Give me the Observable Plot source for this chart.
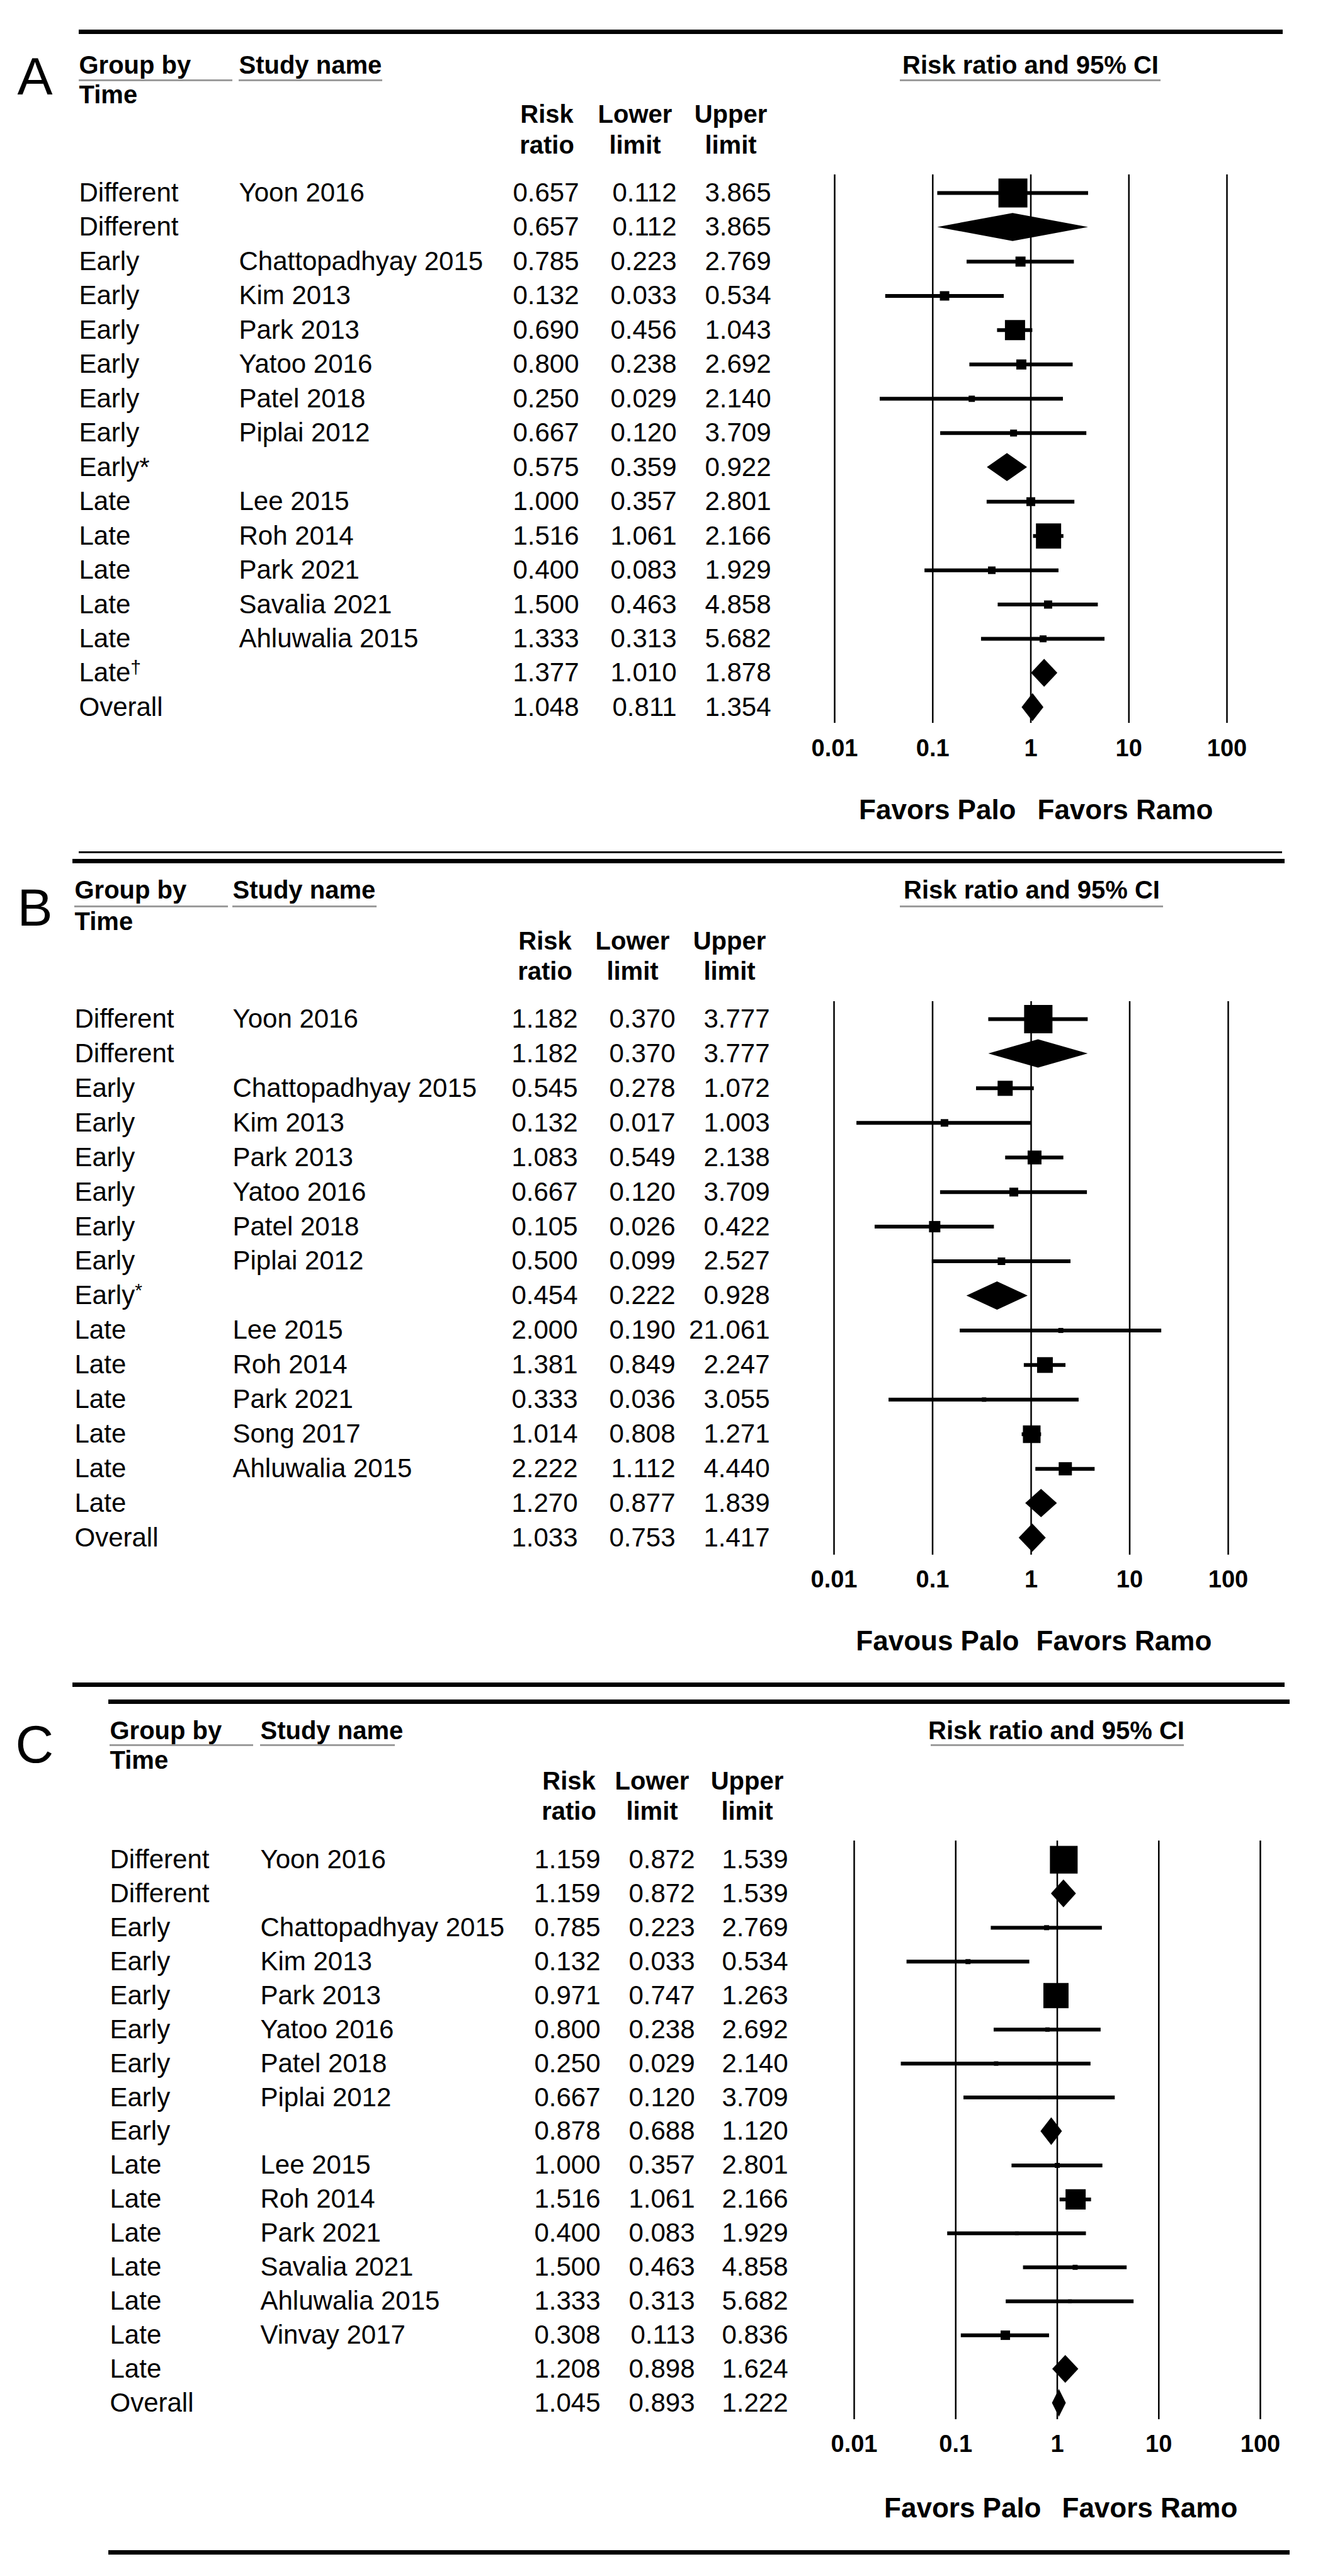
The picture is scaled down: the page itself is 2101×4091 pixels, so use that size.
<!DOCTYPE html>
<html><head><meta charset="utf-8">
<script src="https://cdn.jsdelivr.net/npm/d3@7"></script>
<script src="https://cdn.jsdelivr.net/npm/@observablehq/plot@0.6"></script>
<style>
body{margin:0;background:#fff;}
#page{position:relative;width:2101px;height:4091px;background:#fff;overflow:hidden;font-family:"Liberation Sans",Arial,sans-serif;}
.panel{position:absolute;left:0;}
.sep{position:absolute;background:#000;}
.ul{position:absolute;background:#9c9c9c;height:3px;}
</style></head><body><div id="page"></div>
<script>
// ---------- DATA ----------
const xTicks = [0.01, 0.1, 1, 10, 100];
const xTickLabels = ["0.01", "0.1", "1", "10", "100"];

// Panel A
const groupA = ["Different","Different","Early","Early","Early","Early","Early","Early","Early*","Late","Late","Late","Late","Late","Late†","Overall"];
const studyA = ["Yoon 2016","","Chattopadhyay 2015","Kim 2013","Park 2013","Yatoo 2016","Patel 2018","Piplai 2012","","Lee 2015","Roh 2014","Park 2021","Savalia 2021","Ahluwalia 2015","",""];
const rrA    = [0.657,0.657,0.785,0.132,0.690,0.800,0.250,0.667,0.575,1.000,1.516,0.400,1.500,1.333,1.377,1.048];
const lowerA = [0.112,0.112,0.223,0.033,0.456,0.238,0.029,0.120,0.359,0.357,1.061,0.083,0.463,0.313,1.010,0.811];
const upperA = [3.865,3.865,2.769,0.534,1.043,2.692,2.140,3.709,0.922,2.801,2.166,1.929,4.858,5.682,1.878,1.354];
const weightA = [100,null,12.1,10.6,48.4,12.1,4.7,5.7,null,9.3,75.6,6.8,8.0,5.7,null,null];

// Panel B
const groupB = ["Different","Different","Early","Early","Early","Early","Early","Early","Early*","Late","Late","Late","Late","Late","Late","Overall"];
const studyB = ["Yoon 2016","","Chattopadhyay 2015","Kim 2013","Park 2013","Yatoo 2016","Patel 2018","Piplai 2012","","Lee 2015","Roh 2014","Park 2021","Song 2017","Ahluwalia 2015","",""];
const rrB    = [1.182,1.182,0.545,0.132,1.083,0.667,0.105,0.500,0.454,2.000,1.381,0.333,1.014,2.222,1.270,1.033];
const lowerB = [0.370,0.370,0.278,0.017,0.549,0.120,0.026,0.099,0.222,0.190,0.849,0.036,0.808,1.112,0.877,0.753];
const upperB = [3.777,3.777,1.072,1.003,2.138,3.709,0.422,2.527,0.928,21.061,2.247,3.055,1.271,4.440,1.839,1.417];
const weightB = [95.7,null,27.2,6.8,22.9,9.3,15.3,6.8,null,3.0,29.5,2.3,37.0,20.8,null,null];

// Panel C
const groupC = ["Different","Different","Early","Early","Early","Early","Early","Early","Early","Late","Late","Late","Late","Late","Late","Late","Overall"];
const studyC = ["Yoon 2016","","Chattopadhyay 2015","Kim 2013","Park 2013","Yatoo 2016","Patel 2018","Piplai 2012","","Lee 2015","Roh 2014","Park 2021","Savalia 2021","Ahluwalia 2015","Vinvay 2017","",""];
const rrC    = [1.159,1.159,0.785,0.132,0.971,0.800,0.250,0.667,0.878,1.000,1.516,0.400,1.500,1.333,0.308,1.208,1.045];
const lowerC = [0.872,0.872,0.223,0.033,0.747,0.238,0.029,0.120,0.688,0.357,1.061,0.083,0.463,0.313,0.113,0.898,0.893];
const upperC = [1.539,1.539,2.769,0.534,1.263,2.692,2.140,3.709,1.120,2.801,2.166,1.929,4.858,5.682,0.836,1.624,1.222];
const weightC = [91.5,null,3.0,3.0,75.6,2.3,2.3,1.7,null,3.0,48.4,1.7,3.0,1.7,10.6,null,null];

const headerGroup = ["Group by", "Time"];
const headerStudy = "Study name";
const headerCols = [["Risk","ratio"],["Lower","limit"],["Upper","limit"]];
const headerPlot = "Risk ratio and 95% CI";

// ---------- LAYOUT ----------
const FONT = "Liberation Sans, Arial, Helvetica, sans-serif";
const panels = [
  {letter:"A", top:0, height:1335, gridTop:277, gridBottom:1148, yRange:[306,1123], xRange:[1325,1948],
   colGroup:125, colStudy:379, colVal:[919,1074,1224], hdrBase:116, timeBase:163, colHdr1:194, colHdr2:243,
   colHdrX:[868,1008,1160], titleX:1636, letterX:27, letterBase:149, tickCenter:1187, favY:1269, favL:1613, favR:1647,
   favText:["Favors Palo","Favors Ramo"], sup:"†",
   data:{group:groupA, study:studyA, rr:rrA, lower:lowerA, upper:upperA, weight:weightA}},
  {letter:"B", top:1335, height:1355, gridTop:255, gridBottom:1134, yRange:[283,1107], xRange:[1324,1950],
   colGroup:118, colStudy:369, colVal:[917,1072,1222], hdrBase:91, timeBase:141, colHdr1:172, colHdr2:220,
   colHdrX:[865,1004,1158], titleX:1638, letterX:27, letterBase:134, tickCenter:1172, favY:1254, favL:1618, favR:1645,
   favText:["Favous Palo","Favors Ramo"], sup:"*†",
   data:{group:groupB, study:studyB, rr:rrB, lower:lowerB, upper:upperB, weight:weightB}},
  {letter:"C", top:2690, height:1401, gridTop:233, gridBottom:1152, yRange:[263,1126], xRange:[1356,2001],
   colGroup:174, colStudy:413, colVal:[953,1103,1251], hdrBase:71, timeBase:118, colHdr1:151, colHdr2:199,
   colHdrX:[903,1035,1186], titleX:1677, letterX:24, letterBase:108, tickCenter:1190, favY:1276, favL:1653, favR:1686,
   favText:["Favors Palo","Favors Ramo"], sup:"",
   data:{group:groupC, study:studyC, rr:rrC, lower:lowerC, upper:upperC, weight:weightC}}
];

const page = document.getElementById("page");
const fmt = d3.format(".3f");
const HALF = 0.41; // diamond half-height in row units

function buildPanel(cfg) {
  const d = cfg.data;
  const rows = d.group.map((g, i) => ({i, group: g, study: d.study[i], rr: d.rr[i], lo: d.lower[i], hi: d.upper[i], w: d.weight[i]}));
  const studies = rows.filter(r => r.w != null);
  const summaries = rows.filter(r => r.w == null);
  const diamonds = summaries.flatMap(r => [
    {i: r.i, y: r.i - HALF, x1: r.rr, x2: r.rr},
    {i: r.i, y: r.i, x1: r.lo, x2: r.hi},
    {i: r.i, y: r.i + HALF, x1: r.rr, x2: r.rr}
  ]);
  const T = cfg.gridTop;
  const ann = (text, x, yBase, o = {}) => Plot.text([text], {
    text: t => t, frameAnchor: "top-left", dx: x, dy: yBase - T, lineAnchor: "bottom",
    textAnchor: "start", fontSize: 40, fontWeight: "bold", ...o
  });
  const cols = ["rr", "lo", "hi"];
  const marks = [
    Plot.ruleX(xTicks, {x: v => v, stroke: "black", strokeWidth: 2.5}),
    Plot.ruleY(studies, {y: "i", x1: "lo", x2: "hi", stroke: "black", strokeWidth: 6}),
    Plot.dot(studies, {x: "rr", y: "i", r: "w", symbol: "square", fill: "black", stroke: null}),
    Plot.areaX(diamonds, {y: "y", x1: "x1", x2: "x2", z: "i", fill: "black", curve: "linear"}),
    Plot.axisX(xTicks, {anchor: "bottom", tickSize: 0, tickPadding: cfg.tickCenter - cfg.gridBottom - 13,
      tickFormat: v => xTickLabels[xTicks.indexOf(v)], fontSize: 38, fontWeight: "bold", label: null}),
    Plot.text(rows, {y: "i", text: "group", frameAnchor: "left", dx: cfg.colGroup, textAnchor: "start", fontSize: 42}),
    Plot.text(rows, {y: "i", text: "study", frameAnchor: "left", dx: cfg.colStudy, textAnchor: "start", fontSize: 42}),
    ...cols.map((c, k) => Plot.text(rows, {y: "i", text: r => fmt(r[c]), frameAnchor: "left", dx: cfg.colVal[k], textAnchor: "end", fontSize: 42})),
    ann(cfg.letter, cfg.letterX, cfg.letterBase, {fontSize: 84, fontWeight: "normal"}),
    ann(headerGroup[0], cfg.colGroup, cfg.hdrBase),
    ann(headerGroup[1], cfg.colGroup, cfg.timeBase),
    ann(headerStudy, cfg.colStudy, cfg.hdrBase),
    ann(headerPlot, cfg.titleX, cfg.hdrBase, {textAnchor: "middle"}),
    ...headerCols.flatMap((h, k) => [
      ann(h[0], cfg.colHdrX[k], cfg.colHdr1, {textAnchor: "middle"}),
      ann(h[1], cfg.colHdrX[k], cfg.colHdr2, {textAnchor: "middle"})
    ]),
    Plot.text([cfg.favText[0]], {text: t => t, frameAnchor: "top-left", dx: cfg.favL, dy: cfg.favY - T, textAnchor: "end", fontSize: 44, fontWeight: "bold"}),
    Plot.text([cfg.favText[1]], {text: t => t, frameAnchor: "top-left", dx: cfg.favR, dy: cfg.favY - T, textAnchor: "start", fontSize: 44, fontWeight: "bold"})
  ];
  const chart = Plot.plot({
    width: 2101, height: cfg.height,
    marginTop: cfg.gridTop, marginBottom: cfg.height - cfg.gridBottom, marginLeft: 0, marginRight: 0,
    x: {type: "log", domain: [0.01, 100], range: cfg.xRange},
    y: {type: "linear", domain: [0, rows.length - 1], range: cfg.yRange, axis: null},
    r: {type: "sqrt", domain: [0, 100], range: [0, 46 / Math.sqrt(Math.PI)]},
    style: {fontFamily: FONT, background: "white", overflow: "visible", color: "black"},
    marks
  });
  // superscripts
  if (cfg.sup) {
    chart.querySelectorAll("text").forEach(t => {
      const s = t.textContent;
      if (s.length > 1 && cfg.sup.includes(s[s.length - 1]) && t.children.length === 0) {
        t.textContent = s.slice(0, -1);
        const ts = document.createElementNS("http://www.w3.org/2000/svg", "tspan");
        ts.setAttribute("dy", "-0.42em");
        ts.setAttribute("font-size", "30");
        ts.textContent = s[s.length - 1];
        t.appendChild(ts);
      }
    });
  }
  const wrap = document.createElement("div");
  wrap.className = "panel";
  wrap.style.top = cfg.top + "px";
  wrap.appendChild(chart);
  page.appendChild(wrap);
}
panels.forEach(buildPanel);

// decorative rules
const seps = [[46.5,125,1912,7],[1352,125,1911,2.5],[1364,115,1925,7],[2672,115,1925,7],[2699,172,1876,7],[4050,172,1876,7]];
seps.forEach(([t,l,w,h]) => { const e = document.createElement("div"); e.className = "sep"; Object.assign(e.style, {top:t+"px", left:l+"px", width:w+"px", height:h+"px"}); page.appendChild(e); });
const uls = [[126,125,244],[126,379,228],[126,1429,414],[1438,118,244],[1438,369,229],[1438,1429,418],[2770,174,228],[2770,413,214],[2770,1478,402]];
uls.forEach(([t,l,w]) => { const e = document.createElement("div"); e.className = "ul"; Object.assign(e.style, {top:t+"px", left:l+"px", width:w+"px"}); page.appendChild(e); });
</script></body></html>
